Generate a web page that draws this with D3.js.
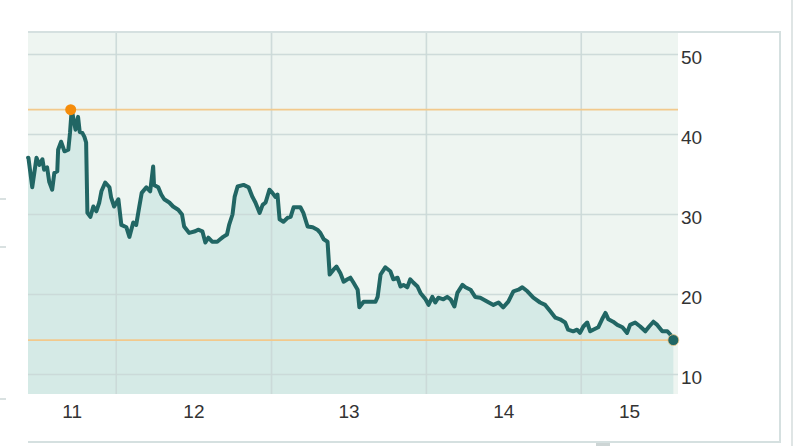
<!DOCTYPE html>
<html>
<head>
<meta charset="utf-8">
<script src="https://cdn.jsdelivr.net/npm/d3@7"></script>
<style>
  html, body { margin: 0; padding: 0; background: #ffffff; }
  svg { display: block; }
  text { font-family: "Liberation Sans", Arial, Helvetica, sans-serif; }
</style>
</head>
<body>
<svg id="chart" width="796" height="446"></svg>
<script>
// ---- data ----
const dates = [
  "2011-06-08","2011-06-17","2011-06-27","2011-07-04","2011-07-11","2011-07-15","2011-07-22","2011-07-27",
  "2011-08-03","2011-08-08","2011-08-15","2011-08-17","2011-08-24","2011-09-01","2011-09-10","2011-09-14",
  "2011-09-18","2011-09-27","2011-10-03","2011-10-07","2011-10-13","2011-10-18","2011-10-22","2011-10-25",
  "2011-11-01","2011-11-08","2011-11-15","2011-11-22","2011-11-27","2011-12-06","2011-12-16","2011-12-20",
  "2011-12-27","2012-01-06","2012-01-13","2012-01-25","2012-02-01","2012-02-10","2012-02-17","2012-02-24",
  "2012-03-01","2012-03-12","2012-03-21","2012-03-28","2012-03-30","2012-04-09","2012-04-16","2012-04-23",
  "2012-05-05","2012-05-14","2012-05-26","2012-06-04","2012-06-09","2012-06-21","2012-07-05","2012-07-12",
  "2012-07-22","2012-07-29","2012-08-05","2012-08-14","2012-08-26","2012-09-02","2012-09-09","2012-09-18",
  "2012-09-23","2012-10-01","2012-10-06","2012-10-13","2012-10-27","2012-11-08","2012-11-17","2012-11-24",
  "2012-12-04","2012-12-11","2012-12-18","2012-12-27","2013-01-03","2013-01-10","2013-01-15","2013-01-20",
  "2013-01-29","2013-02-08","2013-02-15","2013-02-22","2013-03-03","2013-03-10","2013-03-17","2013-03-27",
  "2013-04-08","2013-04-19","2013-04-26","2013-05-04","2013-05-13","2013-05-18","2013-05-27","2013-06-03",
  "2013-06-12","2013-06-20","2013-06-29","2013-07-06","2013-07-13","2013-07-23","2013-07-27","2013-08-06",
  "2013-08-17","2013-09-03","2013-09-08","2013-09-15","2013-09-26","2013-10-08","2013-10-15","2013-10-25",
  "2013-11-01","2013-11-08","2013-11-17","2013-11-24","2013-12-01","2013-12-11","2013-12-18","2013-12-30",
  "2014-01-06","2014-01-15","2014-01-22","2014-01-29","2014-02-10","2014-02-19","2014-02-27","2014-03-08",
  "2014-03-15","2014-03-27","2014-04-03","2014-04-15","2014-04-26","2014-05-08","2014-05-25","2014-06-08",
  "2014-06-20","2014-07-01","2014-07-13","2014-07-25","2014-08-06","2014-08-15","2014-08-27","2014-09-10",
  "2014-09-26","2014-10-08","2014-10-20","2014-11-01","2014-11-12","2014-11-24","2014-12-01","2014-12-13",
  "2014-12-22","2014-12-29","2015-01-06","2015-01-15","2015-01-22","2015-01-29","2015-02-10","2015-02-19",
  "2015-02-27","2015-03-06","2015-03-17","2015-03-27","2015-04-08","2015-04-19","2015-04-26","2015-05-08",
  "2015-05-20","2015-06-01","2015-06-10","2015-06-20","2015-06-29","2015-07-11","2015-07-23","2015-07-30",
  "2015-08-06"
];
const prices = [
  37.1,33.4,37.1,36.2,36.9,35.6,35.9,34.1,
  33.1,35.2,35.4,38.1,39.1,37.9,38.1,40.2,
  43.1,40.6,42.2,40.3,40.2,39.7,39.0,30.2,
  29.7,31.0,30.4,31.5,32.9,34.0,33.4,32.1,
  31.0,31.9,28.7,28.4,27.2,29.0,28.7,30.9,
  32.7,33.4,32.9,36.0,33.7,33.4,32.5,31.9,
  31.5,31.0,30.6,30.0,28.5,27.7,27.9,28.1,
  27.9,26.5,27.1,26.6,26.6,26.9,27.2,27.5,
  28.7,30.0,32.2,33.5,33.7,33.4,32.2,31.5,
  30.2,31.2,31.5,33.1,32.7,32.2,32.5,29.4,
  29.1,29.6,29.7,30.9,30.9,30.9,30.2,28.5,
  28.4,28.1,27.7,26.9,26.6,22.5,23.1,23.5,
  22.7,21.6,21.9,22.1,21.5,20.6,18.4,19.1,
  19.1,19.1,19.7,22.5,23.4,22.9,21.9,22.1,
  21.0,21.2,20.9,21.9,21.5,21.0,20.2,19.4,
  18.7,19.7,19.0,19.6,19.4,19.7,19.4,18.5,
  20.2,21.2,20.9,20.6,19.7,19.6,19.1,18.7,
  19.0,18.4,19.1,20.4,20.6,20.9,20.4,19.6,
  19.0,18.7,17.9,17.1,16.9,16.5,15.6,15.4,
  15.6,15.2,16.0,16.5,15.4,15.6,15.9,16.9,
  17.7,16.9,16.6,16.2,15.9,15.2,16.2,16.5,
  16.0,15.4,16.0,16.6,16.2,15.4,15.4,15.0,
  14.3
];
const yTicks = [10, 20, 30, 40, 50];
const yearStarts = ["2012-01-01", "2013-01-01", "2014-01-01", "2015-01-01"];
const yearLabels = ["11", "12", "13", "14", "15"];
const domainStart = "2011-06-07";
const domainEnd = "2015-08-17";

// ---- layout ----
const parse = d3.timeParse("%Y-%m-%d");
const data = dates.map((d, i) => ({ date: parse(d), value: prices[i] }));

const plot = { left: 28, right: 678, top: 32, bottom: 394 };
const frameRight = 780, frameBottom = 442;

const x = d3.scaleTime()
  .domain([parse(domainStart), parse(domainEnd)])
  .range([plot.left, plot.right]);
const y = d3.scaleLinear()
  .domain([50 - (plot.bottom - 54.5) / 8, 50 + (54.5 - plot.top) / 8])
  .range([plot.bottom, plot.top]);

const svg = d3.select("#chart");

// outer decorations
svg.append("line").attr("x1", 792).attr("x2", 792).attr("y1", 0).attr("y2", 446)
  .attr("stroke", "#dfe5e5").attr("stroke-width", 2);
[199, 247, 399].forEach(v => {
  svg.append("line").attr("x1", 0).attr("x2", 6).attr("y1", v).attr("y2", v)
    .attr("stroke", "#d9e1e1").attr("stroke-width", 2);
});
svg.append("rect").attr("x", 596).attr("y", 443).attr("width", 14).attr("height", 3)
  .attr("fill", "#cdd5d5");

// frame
svg.append("path")
  .attr("d", `M${plot.left},${plot.top} H${frameRight} V${frameBottom} H${plot.left}`)
  .attr("fill", "none").attr("stroke", "#d5e0e0").attr("stroke-width", 2);

// plot background
svg.append("rect")
  .attr("x", plot.left).attr("y", plot.top + 1)
  .attr("width", plot.right - plot.left).attr("height", plot.bottom - plot.top - 1)
  .attr("fill", "#eef5f1");

// area
const area = d3.area()
  .x(d => x(d.date)).y0(plot.bottom).y1(d => y(d.value));
const areaData = [{ date: x.domain()[0], value: data[0].value }].concat(data);
svg.append("path").datum(areaData).attr("d", area).attr("fill", "#d5eae6");

// grid
const grid = svg.append("g");
grid.selectAll("line.h").data(yTicks).join("line")
  .attr("x1", plot.left).attr("x2", plot.right)
  .attr("y1", d => y(d)).attr("y2", d => y(d))
  .attr("stroke", "#cbd9d8").attr("stroke-width", 1.6).attr("opacity", 0.9);
grid.selectAll("line.v").data(yearStarts.map(parse)).join("line")
  .attr("x1", d => x(d)).attr("x2", d => x(d))
  .attr("y1", plot.top + 1).attr("y2", plot.bottom)
  .attr("stroke", "#cbd9d8").attr("stroke-width", 1.6).attr("opacity", 0.9);

// max / min reference lines
const maxV = d3.max(prices), minV = d3.min(prices);
[maxV, minV].forEach(v => {
  svg.append("line").attr("x1", plot.left).attr("x2", plot.right)
    .attr("y1", y(v)).attr("y2", y(v))
    .attr("stroke", "#f2c98c").attr("stroke-width", 1.8);
});

// price line
const line = d3.line().x(d => x(d.date)).y(d => y(d.value));
svg.append("path").datum(areaData).attr("d", line)
  .attr("fill", "none").attr("stroke", "#216664").attr("stroke-width", 4)
  .attr("stroke-linejoin", "round").attr("stroke-linecap", "round");

// markers
const maxPt = data[d3.maxIndex(data, d => d.value)];
const lastPt = data[data.length - 1];
svg.append("circle").attr("cx", x(maxPt.date) - 1).attr("cy", y(maxPt.value))
  .attr("r", 5.5).attr("fill", "#f58c0a");
svg.append("circle").attr("cx", x(lastPt.date)).attr("cy", y(lastPt.value))
  .attr("r", 5.5).attr("fill", "#1f6664").attr("stroke", "#f2c98c").attr("stroke-width", 0.8);

// right axis labels
const yAxis = svg.append("g");
yAxis.selectAll("text").data(yTicks).join("text")
  .attr("x", 681).attr("y", d => y(d) + 9)
  .attr("font-size", 19).attr("fill", "#333333")
  .text(d => d);

// bottom labels (centered on visible part of each year)
const bounds = [x.domain()[0]].concat(yearStarts.map(parse)).concat([x.domain()[1]]);
const labelPos = yearLabels.map((t, i) => ({ t, cx: (x(bounds[i]) + x(bounds[i + 1])) / 2 }));
svg.append("g").selectAll("text").data(labelPos).join("text")
  .attr("x", d => d.cx).attr("y", 417.5)
  .attr("text-anchor", "middle")
  .attr("font-size", 19).attr("fill", "#333333")
  .text(d => d.t);
</script>
</body>
</html>
